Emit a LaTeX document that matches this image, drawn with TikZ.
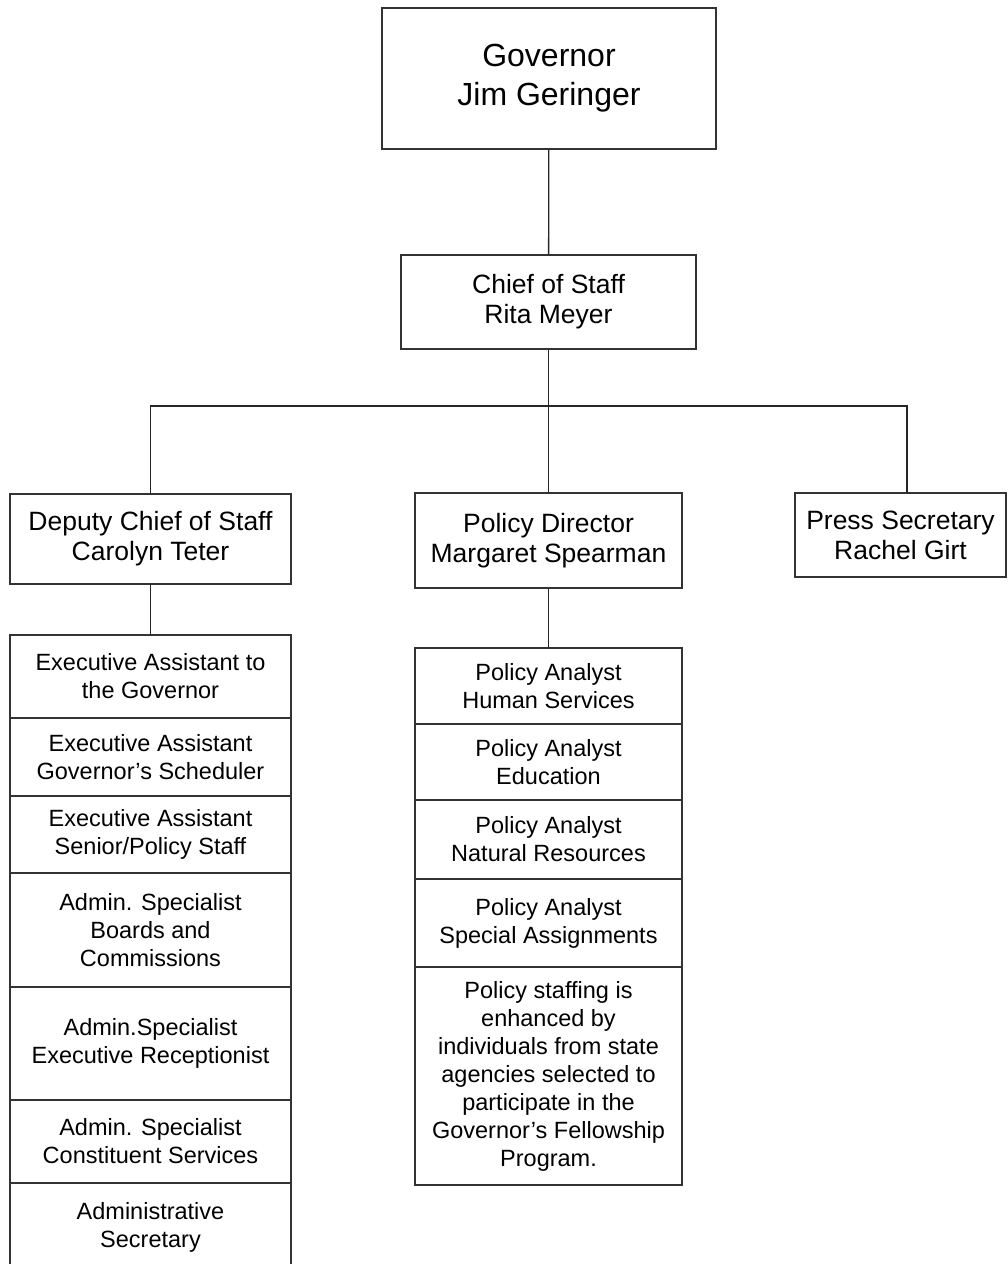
\documentclass[tikz,border=0pt]{standalone}
\usepackage{fontspec}
\setmainfont{Liberation Sans}
\usetikzlibrary{positioning}
\tikzset{orgbox/.style={draw=black!80,line width=1.3pt,outer sep=0pt,inner sep=2pt,align=center,
                        font=\fontsize{26.5}{30}\selectfont}}
\tikzset{topbox/.style={orgbox,font=\fontsize{32}{39}\selectfont}}
\tikzset{staffbox/.style={orgbox,font=\fontsize{23.5}{28}\selectfont}}
\tikzset{orgline/.style={draw=black!85,line width=1.3pt}}

\begin{document}
\begin{tikzpicture}[x=1pt,y=-1pt]
  \useasboundingbox (0,0) rectangle (1007,1264);
  % head of the office
  \node[topbox,minimum width=334pt,minimum height=141pt] (gov) at (549,78.5) {Governor\\Jim Geringer};
  \node[orgbox,minimum width=295pt,minimum height=94pt] (cos) at (548.5,302) {Chief of Staff\\Rita Meyer};
  % second row
  \node[orgbox,minimum width=281pt,minimum height=90pt] (dep) at (150.5,539) {Deputy Chief of Staff\\Carolyn Teter};
  \node[orgbox,minimum width=267pt,minimum height=95pt] (pd) at (548.5,540.5) {Policy Director\\Margaret Spearman};
  \node[orgbox,minimum width=211pt,minimum height=84pt] (press) at (900.5,535) {Press Secretary\\Rachel Girt};
  \coordinate (bus) at (548,406);
  \coordinate (presstop) at (907,493);
  % deputy staff column
  \node[staffbox,minimum width=281pt,minimum height=83pt,anchor=north] (ea1) at (150.5,635) {Executive Assistant to\\the Governor};
  \node[staffbox,minimum width=281pt,minimum height=78pt,below=0pt of ea1] (ea2) {Executive Assistant\\Governor’s Scheduler};
  \node[staffbox,minimum width=281pt,minimum height=77pt,below=0pt of ea2] (ea3) {Executive Assistant\\Senior/Policy Staff};
  \node[staffbox,minimum width=281pt,minimum height=114pt,below=0pt of ea3] (as1) {Admin. Specialist\\Boards and\\Commissions};
  \node[staffbox,minimum width=281pt,minimum height=113pt,below=0pt of as1] (as2) {Admin.Specialist\\Executive Receptionist};
  \node[staffbox,minimum width=281pt,minimum height=83pt,below=0pt of as2] (as3) {Admin. Specialist\\Constituent Services};
  \node[staffbox,minimum width=281pt,minimum height=88pt,below=0pt of as3] (asec) {Administrative\\Secretary};
  % policy staff column
  \node[staffbox,minimum width=267pt,minimum height=76pt,anchor=north] (pa1) at (548.5,648) {Policy Analyst\\Human Services};
  \node[staffbox,minimum width=267pt,minimum height=76pt,below=0pt of pa1] (pa2) {Policy Analyst\\Education};
  \node[staffbox,minimum width=267pt,minimum height=79pt,below=0pt of pa2] (pa3) {Policy Analyst\\Natural Resources};
  \node[staffbox,minimum width=267pt,minimum height=88pt,below=0pt of pa3] (pa4) {Policy Analyst\\Special Assignments};
  \node[staffbox,minimum width=267pt,minimum height=218pt,below=0pt of pa4] (fellow) {Policy staffing is\\enhanced by\\individuals from state\\agencies selected to\\participate in the\\Governor’s Fellowship\\Program.};
  % connectors
  \draw[orgline] (gov) -- (cos);
  \draw[orgline] (cos) -- (pd);
  \draw[orgline] (dep.north) |- (bus) -| (presstop);
  \draw[orgline] (dep) -- (ea1);
  \draw[orgline] (pd) -- (pa1);
\end{tikzpicture}
\end{document}
